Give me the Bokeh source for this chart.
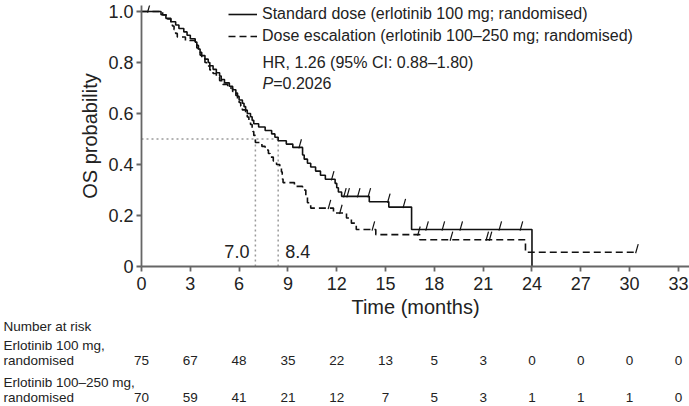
import numpy as np
from bokeh.plotting import figure
from bokeh.models import (Range1d, Legend, LegendItem, FixedTicker,
                          CustomJSTickFormatter, Label)
from bokeh.layouts import column
from bokeh.embed import file_html
from bokeh.resources import INLINE
from bokeh.core.properties import value

# ---------------- data ----------------
std_event_times = [1.2, 1.5, 1.8, 2.1, 2.3, 2.6, 2.8, 3.0, 3.3, 3.4, 3.5, 3.6, 3.7, 3.9,
                   4.1, 4.2, 4.4, 4.6, 4.8, 4.9, 5.1, 5.4, 5.6, 5.8, 5.9, 6.0, 6.2, 6.3,
                   6.4, 6.5, 6.7, 6.8, 6.9, 7.2, 7.6, 8.0, 8.2, 8.4, 8.9, 9.3, 9.9, 10.0,
                   10.2, 10.4, 10.7, 11.0, 11.3, 11.9, 12.0, 12.1, 12.3, 14.0, 15.2, 16.6, 24.0]
std_surv = [0.987, 0.973, 0.960, 0.947, 0.933, 0.920, 0.907, 0.893, 0.880, 0.867, 0.853,
            0.840, 0.827, 0.813, 0.800, 0.787, 0.773, 0.760, 0.747, 0.733, 0.720, 0.707,
            0.693, 0.680, 0.667, 0.653, 0.640, 0.627, 0.613, 0.600, 0.587, 0.573, 0.560,
            0.547, 0.533, 0.520, 0.507, 0.493, 0.480, 0.467, 0.437, 0.421, 0.405, 0.390,
            0.374, 0.358, 0.342, 0.326, 0.309, 0.292, 0.275, 0.254, 0.233, 0.145, 0.0]
std_censor_times = [0.4, 9.7, 11.7, 12.45, 12.65, 13.3, 13.95, 15.15, 16.1,
                    17.5, 18.5, 19.6, 22.0, 23.3]

esc_event_times = [1.3, 1.6, 1.8, 1.9, 2.0, 2.1, 2.2, 2.7, 3.3, 3.4, 3.5, 3.6, 3.7, 3.9,
                   4.0, 4.2, 4.4, 4.6, 4.8, 5.0, 5.3, 5.6, 5.8, 5.9, 6.0, 6.1, 6.2, 6.4,
                   6.5, 6.6, 6.7, 6.8, 6.85, 6.9, 7.0, 7.4, 7.6, 7.8, 7.9, 8.1, 8.3, 8.5,
                   8.6, 8.65, 8.7, 9.4, 9.9, 10.1, 10.2, 10.4, 11.8, 12.6, 12.9, 13.2,
                   14.4, 17.1, 23.6]
esc_surv = [0.986, 0.971, 0.957, 0.943, 0.929, 0.914, 0.900, 0.886, 0.871, 0.857, 0.843,
            0.829, 0.814, 0.800, 0.786, 0.771, 0.757, 0.743, 0.729, 0.714, 0.700, 0.686,
            0.671, 0.657, 0.643, 0.629, 0.614, 0.600, 0.586, 0.571, 0.557, 0.543, 0.529,
            0.514, 0.486, 0.471, 0.457, 0.443, 0.429, 0.414, 0.400, 0.386, 0.371, 0.343,
            0.329, 0.314, 0.300, 0.271, 0.250, 0.229, 0.210, 0.190, 0.170, 0.145, 0.125,
            0.105, 0.056]
esc_censor_times = [11.5, 12.2, 14.2, 17.0, 19.0, 21.2, 21.4, 30.4]

median_std = 8.4
median_esc = 7.0
median_level = 0.5

label_std = "Standard dose (erlotinib 100 mg; randomised)"
label_esc = "Dose escalation (erlotinib 100\u2013250 mg; randomised)"
hr_text = "HR, 1.26 (95% CI: 0.88\u20131.80)"
p_symbol = "P"
p_value_text = "=0.2026"

x_ticks = [0, 3, 6, 9, 12, 15, 18, 21, 24, 27, 30, 33]
y_ticks = [0, 0.2, 0.4, 0.6, 0.8, 1.0]

risk_times = [0, 3, 6, 9, 12, 15, 18, 21, 24, 27, 30, 33]
risk_std = [75, 67, 48, 35, 22, 13, 5, 3, 0, 0, 0, 0]
risk_esc = [70, 59, 41, 21, 12, 7, 5, 3, 1, 1, 1, 0]
risk_title = "Number at risk"
risk_row_labels = [["Erlotinib 100 mg,", "randomised"],
                   ["Erlotinib 100\u2013250 mg,", "randomised"]]

# ---------------- layout constants ----------------
FONT = "Liberation Sans"
INK = "#222222"
W = 689
PX_PER_MONTH = 16.27
PX_PER_UNIT = 256.0
FRAME_LEFT = 141
FRAME_TOP = 5
AXIS_Y = 267           # pixel row of S = 0
MAIN_H = 320
TABLE_H = 86
frame_w = W - FRAME_LEFT
x_end = frame_w / PX_PER_MONTH
y_end = (AXIS_Y - FRAME_TOP) / PX_PER_UNIT

p = figure(width=W, height=MAIN_H, x_range=Range1d(0, x_end), y_range=Range1d(0, y_end),
           output_backend="svg", toolbar_location=None,
           min_border_left=FRAME_LEFT, min_border_right=0, min_border_top=FRAME_TOP,
           min_border_bottom=MAIN_H - AXIS_Y)
p.frame_align = False
p.outline_line_color = None
p.grid.visible = False
p.background_fill_color = "white"

def step_xy(times, surv, end_time=None):
    xs = [0.0] + list(times)
    ys = [1.0] + list(surv)
    if end_time is not None and end_time > xs[-1]:
        xs.append(end_time)
        ys.append(ys[-1])
    return xs, ys

def surv_at(times, surv, tvals):
    idx = np.searchsorted(np.array(times), np.array(tvals), side="right") - 1
    return [1.0 if i < 0 else surv[i] for i in idx]

# median guide lines
GUIDE = "#9a9a9a"
p.line([0, median_std], [median_level, median_level], line_color=GUIDE,
       line_width=1.5, line_dash="2 3")
p.segment(x0=[median_esc, median_std], y0=[0, 0], x1=[median_esc, median_std],
          y1=[median_level, median_level], line_color=GUIDE, line_width=1.5, line_dash="2 3")

xs_std, ys_std = step_xy(std_event_times, std_surv)
xs_esc, ys_esc = step_xy(esc_event_times, esc_surv, max(esc_censor_times))

r_std = p.step(xs_std, ys_std, mode="after", line_color="#111111", line_width=1.6)
r_esc = p.step(xs_esc, ys_esc, mode="after", line_color="#111111", line_width=1.6,
               line_dash="7 4")

# censor marks
DX, DY = 0.13, 0.032
for ct, et, sv in [(std_censor_times, std_event_times, std_surv),
                   (esc_censor_times, esc_event_times, esc_surv)]:
    cy = surv_at(et, sv, ct)
    p.segment(x0=[c - 0.03 for c in ct], y0=[y - 0.004 for y in cy],
              x1=[c + DX for c in ct], y1=[y + DY for y in cy],
              line_color="#111111", line_width=1.2)

# axes
for ax in (p.xaxis[0], p.yaxis[0]):
    ax.axis_line_color = "#666666"
    ax.axis_line_width = 1.8
    ax.major_tick_line_color = "#666666"
    ax.major_tick_line_width = 1.8
    ax.major_tick_out = 5
    ax.major_tick_in = 0
    ax.minor_tick_line_color = None
    ax.major_label_text_font = FONT
    ax.major_label_text_font_size = "18px"
    ax.major_label_text_color = INK
    ax.axis_label_text_font = FONT
    ax.axis_label_text_font_size = "20px"
    ax.axis_label_text_font_style = "normal"
    ax.axis_label_text_color = INK

p.xaxis.ticker = FixedTicker(ticks=x_ticks)
p.yaxis.ticker = FixedTicker(ticks=y_ticks)
p.yaxis.formatter = CustomJSTickFormatter(code="return tick == 0 ? '0' : tick.toFixed(1);")
p.xaxis.axis_label = "Time (months)"
p.yaxis.axis_label = "OS probability"
p.xaxis.major_label_standoff = 5
p.yaxis.major_label_standoff = 3
p.xaxis.axis_label_standoff = 3
p.yaxis.axis_label_standoff = 4

# legend (top edge kept inside the plot frame)
LEG_H = 40
legend = Legend(items=[LegendItem(label=label_std, renderers=[r_std]),
                       LegendItem(label=label_esc, renderers=[r_esc])],
                location=(228 - FRAME_LEFT, AXIS_Y - FRAME_TOP - 1 - LEG_H),
                orientation="vertical",
                glyph_width=29, glyph_height=18, label_height=18, label_width=20,
                label_standoff=5, spacing=4, padding=0, margin=0,
                border_line_color=None, background_fill_alpha=0,
                label_text_font=FONT, label_text_font_size="16px",
                label_text_color=INK)
p.add_layout(legend)

# HR and P texts
t_txt = (262 - FRAME_LEFT) / PX_PER_MONTH
p.add_layout(Label(x=t_txt, y=0.80, text=hr_text, text_baseline="middle",
                   text_font=FONT, text_font_size="16px", text_color=INK))
p.add_layout(Label(x=t_txt, y=0.719, text=p_symbol, text_baseline="middle",
                   text_font=FONT, text_font_size="16px", text_font_style="italic",
                   text_color=INK))
p.add_layout(Label(x=t_txt, y=0.719, x_offset=10.7, text=p_value_text,
                   text_baseline="middle", text_font=FONT, text_font_size="16px",
                   text_color=INK))

# median labels
p.add_layout(Label(x=median_esc, y=0.06, x_offset=-6, text=f"{median_esc:.1f}",
                   text_align="right", text_baseline="middle", text_font=FONT,
                   text_font_size="18px", text_color=INK))
p.add_layout(Label(x=median_std, y=0.06, x_offset=7, text=f"{median_std:.1f}",
                   text_align="left", text_baseline="middle", text_font=FONT,
                   text_font_size="18px", text_color=INK))

# ---------------- number-at-risk table ----------------
t_start = -FRAME_LEFT / PX_PER_MONTH
p2 = figure(width=W, height=TABLE_H, x_range=Range1d(t_start, x_end),
            y_range=Range1d(TABLE_H, 0), output_backend="svg", toolbar_location=None,
            x_axis_type=None, y_axis_type=None, min_border=0)
p2.frame_align = False
p2.outline_line_color = None
p2.background_fill_color = "white"

row_y = [[25, 40], [62, 77]]
title_y = 6
lab_x = t_start + 3 / PX_PER_MONTH
TS = "13.5px"
p2.text(x=[lab_x], y=[title_y], text=[risk_title], text_align="left",
        text_baseline="middle", text_font=value(FONT), text_font_size=TS,
        text_color=INK)
for (l1, l2), (y1, y2), counts in zip(risk_row_labels, row_y, [risk_std, risk_esc]):
    p2.text(x=[lab_x, lab_x], y=[y1, y2], text=[l1, l2], text_align="left",
            text_baseline="middle", text_font=value(FONT), text_font_size=TS,
            text_color=INK)
    p2.text(x=risk_times, y=[y2] * len(risk_times), text=[str(c) for c in counts],
            text_align="center", text_baseline="middle", text_font=value(FONT),
            text_font_size=TS, text_color=INK)

layout = column(p, p2, spacing=0)
open("out.html", "w").write(file_html(layout, INLINE))
